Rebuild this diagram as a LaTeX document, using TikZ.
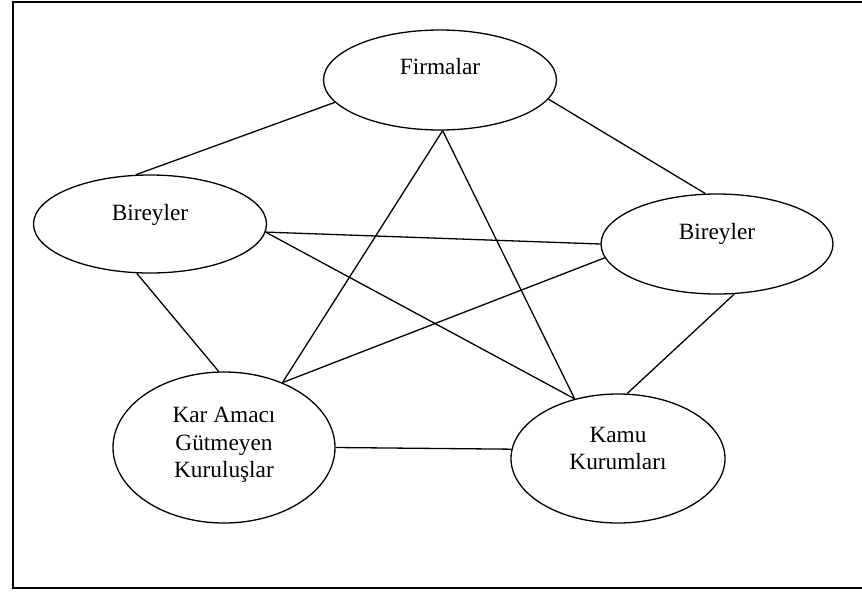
\documentclass[tikz,border=0pt]{standalone}
\usepackage{fontspec}
\setmainfont{Liberation Serif}
\usepackage{tikz}
\usetikzlibrary{shapes.geometric}

\begin{document}
\begin{tikzpicture}[x=1pt, y=-1pt,
    actor/.style={ellipse, draw, line width=1.3pt, fill=white, inner sep=0pt},
    actortext/.style={font=\fontsize{23.3}{27.5}\selectfont, align=center, inner sep=0pt},
    link/.style={line width=1.3pt}]
    \clip (0,0) rectangle (862,592);
    % Frame
    \draw[line width=1.8pt] (13,2) rectangle (880,588);

    % Actors
    \node[actor, minimum width=233, minimum height=100,
          label={[actortext, yshift=13pt]center:Firmalar}] (firm) at (440,80) {};
    \node[actor, minimum width=233, minimum height=98,
          label={[actortext, yshift=9.4pt]center:Bireyler}] (bleft) at (150,224) {};
    \node[actor, minimum width=232, minimum height=100,
          label={[actortext, yshift=10pt]center:Bireyler}] (bright) at (717,244) {};
    \node[actor, minimum width=222, minimum height=151,
          label={[actortext, yshift=2.5pt]center:Kar Amacı\\Gütmeyen\\Kuruluşlar}] (kar) at (224,447.5) {};
    \node[actor, minimum width=214, minimum height=129,
          label={[actortext, yshift=10pt]center:Kamu\\Kurumları}] (kamu) at (618,458.5) {};

    % Links
    \draw[link] (firm.192.4) -- (bleft.106.9);
    \draw[link] (firm.350.7) -- (bright.103.2);
    \draw[link] (firm.273.4) -- (kar.48.5);
    \draw[link] (firm.273.4) -- (kamu.126.5);
    \draw[link] (bleft.356) -- (bright.180);
    \draw[link] (bleft.356) -- (kamu.126.5);
    \draw[link] (bleft.255.7) -- (kar.94.5);
    \draw[link] (bright.187.4) -- (kar.48.5);
    \draw[link] (bright.289.8) -- (kamu.82);
    \draw[link] (kar.0) -- (kamu.175.5);
\end{tikzpicture}
\end{document}
